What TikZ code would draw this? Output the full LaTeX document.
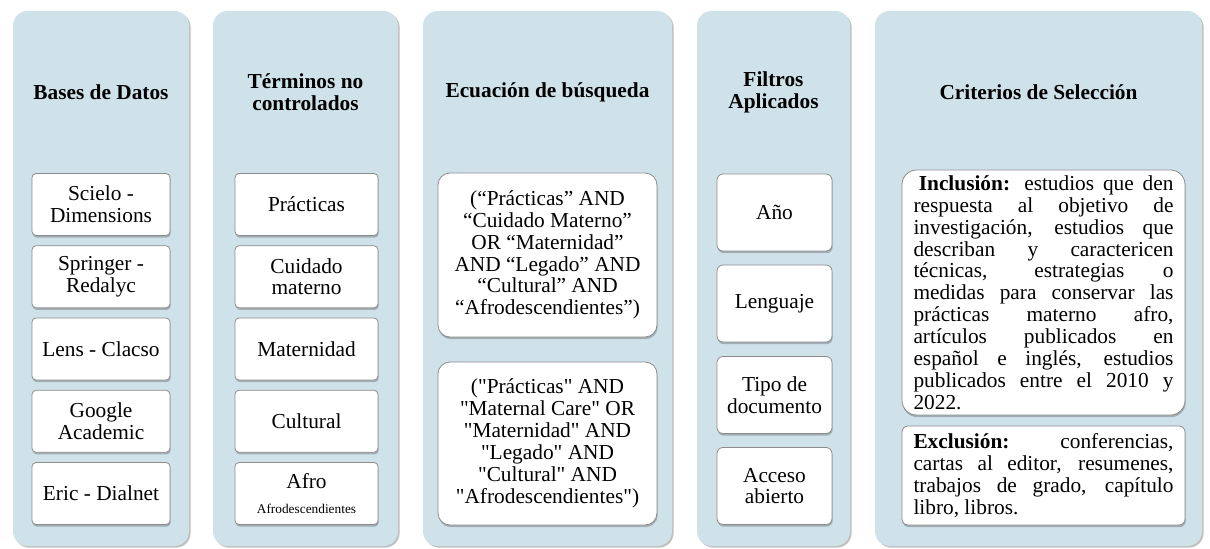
\documentclass[tikz,border=0pt]{standalone}
\usepackage{fontspec}
\setmainfont{Liberation Serif}
\usetikzlibrary{shadows}
\definecolor{colbg}{HTML}{CFE2EA}
\definecolor{boxline}{HTML}{8C8C8C}
\newcommand{\jline}[1]{\makebox[195pt][s]{#1}}
\newcommand{\dq}{\XeTeXglyph\XeTeXcharglyph"22\relax}
\begin{document}
\begin{tikzpicture}[x=0.75pt,y=-0.75pt,
  sz/.style 2 args={minimum width=#1*0.75pt, minimum height=#2*0.75pt},
  colbox/.style={rectangle, rounded corners=11pt, fill=colbg, inner sep=0pt,
    drop shadow={shadow xshift=1.2pt, shadow yshift=-1.2pt, opacity=0.25, fill=black}},
  itembox/.style={rectangle, rounded corners=3pt, fill=white, draw=boxline, line width=0.6pt,
    inner sep=0pt, align=center, font=\fontsize{16}{16.4}\selectfont,
    drop shadow={shadow xshift=0.5pt, shadow yshift=-1.6pt, opacity=0.35, fill=black!70}},
  ttl/.style={font=\fontsize{16}{16.4}\selectfont\bfseries, align=center, inner sep=0pt}
]
\useasboundingbox (0,0) rectangle (1210,549);
% column backgrounds
\node[colbox, sz={176}{535}] (bg1) at (101,278.5) {};
\node[colbox, sz={185}{535}] (bg2) at (305.5,278.5) {};
\node[colbox, sz={249}{535}] (bg3) at (547.5,278.5) {};
\node[colbox, sz={153}{535}] (bg4) at (773.5,278.5) {};
\node[colbox, sz={327}{535}] (bg5) at (1038.5,278.5) {};
% titles
\node[ttl] (t1) at (101,92) {Bases de Datos};
\node[ttl] (t2) at (305.5,92) {Términos no\\controlados};
\node[ttl] (t3) at (547.5,92) {Ecuación de búsqueda};
\node[ttl] (t4) at (773.5,92) {Filtros\\Aplicados};
\node[ttl] (t5) at (1038.5,92) {Criterios de Selección};
% column 1
\node[itembox, sz={138}{62}] (a1) at (101,204.5) {Scielo -\\Dimensions};
\node[itembox, sz={138}{62}] (a2) at (101,276.75) {Springer -\\Redalyc};
\node[itembox, sz={138}{62}] (a3) at (101,349) {Lens - Clacso};
\node[itembox, sz={138}{62}] (a4) at (101,421.25) {Google\\Academic};
\node[itembox, sz={138}{62}] (a5) at (101,493.5) {Eric - Dialnet};
% column 2
\node[itembox, sz={143}{62}] (b1) at (306.5,204.5) {Prácticas};
\node[itembox, sz={143}{62}] (b2) at (306.5,276.75) {Cuidado\\materno};
\node[itembox, sz={143}{62}] (b3) at (306.5,349) {Maternidad};
\node[itembox, sz={143}{62}] (b4) at (306.5,421.25) {Cultural};
\node[itembox, sz={143}{62}] (b5) at (306.5,493.5) {Afro\\[3pt]{\fontsize{10}{12}\selectfont Afrodescendientes}};
% column 3
\node[itembox, rounded corners=9pt, sz={219}{164}] (e1) at (547.5,255) {(“Prácticas” AND\\“Cuidado Materno”\\OR “Maternidad”\\AND “Legado” AND\\“Cultural” AND\\“Afrodescendientes”)};
\node[itembox, rounded corners=9pt, sz={219}{163}] (e2) at (547.5,443.5) {(\dq Prácticas\dq{} AND\\\dq Maternal Care\dq{} OR\\\dq Maternidad\dq{} AND\\\dq Legado\dq{} AND\\\dq Cultural\dq{} AND\\\dq Afrodescendientes\dq)};
% column 4
\node[itembox, rounded corners=4.5pt, sz={115}{77}] (f1) at (774.5,212.5) {Año};
\node[itembox, rounded corners=4.5pt, sz={115}{77}] (f2) at (774.5,303.5) {Lenguaje};
\node[itembox, rounded corners=4.5pt, sz={115}{77}] (f3) at (774.5,395) {Tipo de\\documento};
\node[itembox, rounded corners=4.5pt, sz={115}{77}] (f4) at (774.5,486) {Acceso\\abierto};
% column 5
\node[itembox, rounded corners=11pt, sz={283}{245}, align=left] (g1) at (1043.5,292.5) {%
\jline{\hspace*{4pt}\textbf{Inclusión:} estudios que den}\\
\jline{respuesta al objetivo de}\\
\jline{investigación, estudios que}\\
\jline{describan y caractericen}\\
\jline{técnicas, estrategias o}\\
\jline{medidas para conservar las}\\
\jline{prácticas materno afro,}\\
\jline{artículos publicados en}\\
\jline{español e inglés, estudios}\\
\jline{publicados entre el 2010 y}\\
\makebox[195pt][l]{2022.}};
\node[itembox, rounded corners=4.5pt, sz={283}{99}, align=left] (g2) at (1043.5,475.5) {%
\jline{\textbf{Exclusión:} conferencias,}\\
\jline{cartas al editor, resumenes,}\\
\jline{trabajos de grado, capítulo}\\
\makebox[195pt][l]{libro, libros.}};
\end{tikzpicture}
\end{document}
